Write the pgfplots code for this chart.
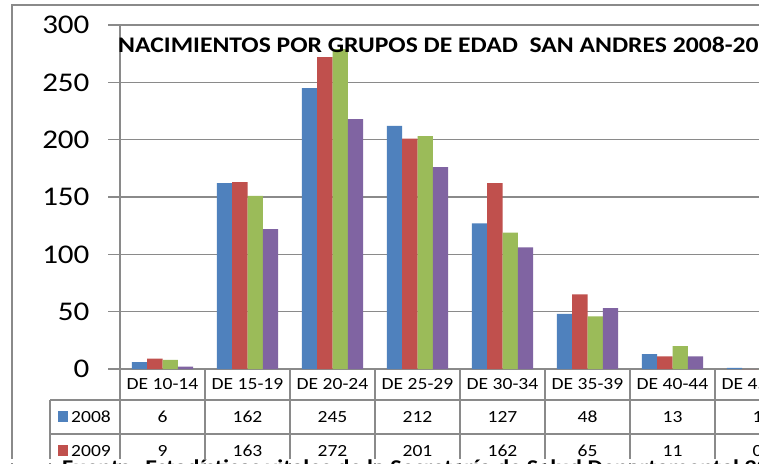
\documentclass[border=0pt]{standalone}
\usepackage{fontspec}
\setmainfont{Carlito}[FakeStretch=1.15]
\usepackage{pgfplots}
\pgfplotsset{compat=1.18}
\usepackage{pgfplotstable}
\definecolor{cA}{HTML}{4F81BD}
\definecolor{cB}{HTML}{C0504D}
\definecolor{cC}{HTML}{9BBB59}
\definecolor{cD}{HTML}{8064A2}
\definecolor{gridc}{HTML}{8A8A8A}

\pgfplotstableread{
x a b c d
0 6 9 8 2
1 162 163 151 122
2 245 272 279 218
3 212 201 203 176
4 127 162 119 106
5 48 65 46 53
6 13 11 20 11
7 1 0 0 0
}\data

\begin{document}
\begin{tikzpicture}[x=1pt,y=1pt]
\begin{scope}
\clip (0,0) rectangle (759,463);
\fill[white] (0,0) rectangle (759,463);
\draw[gridc, line width=1.3pt] (12,-10) -- (12,458) -- (800,458);
\begin{axis}[
  at={(120pt,94pt)}, anchor=south west,
  width=680pt, height=344pt, scale only axis,
  xmin=-0.5, xmax=7.5, ymin=0, ymax=300,
  ybar=0pt, bar width=15.3pt,
  axis x line*=bottom, axis y line*=left,
  axis line style={gridc, line width=1.3pt},
  xtick=\empty,
  ytick={0,50,...,300},
  ymajorgrids, major grid style={gridc, line width=1.3pt},
  ytick style={gridc, line width=1.3pt},
  major tick length=12pt, tick align=outside,
  yticklabel style={font=\fontsize{27}{27}\selectfont, text=black, xshift=-15pt},
  /pgf/number format/assume math mode=true,
  clip=false,
]
\addplot[fill=cA, draw=none] table[x=x,y=a] {\data};
\addplot[fill=cB, draw=none] table[x=x,y=b] {\data};
\addplot[fill=cC, draw=none] table[x=x,y=c] {\data};
\addplot[fill=cD, draw=none] table[x=x,y=d] {\data};
\end{axis}
\node[anchor=base west, font=\fontsize{22.3}{23}\selectfont\bfseries, inner sep=0pt] at (118,410) {NACIMIENTOS POR GRUPOS DE EDAD\ \ SAN ANDRES 2008-2011};
% data table
\foreach \k in {0,...,8} {
  \draw[gridc, line width=1.3pt] (120+85*\k,94) -- (120+85*\k,-10);
}
\draw[gridc, line width=1.3pt] (50,63) -- (50,-10);
\draw[gridc, line width=1.3pt] (50,63) -- (800,63);
\draw[gridc, line width=1.3pt] (50,29) -- (800,29);
\foreach \lab [count=\i from 0] in {DE 10-14,DE 15-19,DE 20-24,DE 25-29,DE 30-34,DE 35-39,DE 40-44,DE 45-49} {
  \node[font=\fontsize{17}{17}\selectfont] at (162.5+85*\i,78.5) {\lab};
}
\foreach \v [count=\i from 0] in {6,162,245,212,127,48,13,1} {
  \node[font=\fontsize{17}{17}\selectfont] at (162.5+85*\i,46) {\v};
}
\foreach \v [count=\i from 0] in {9,163,272,201,162,65,11,0} {
  \node[font=\fontsize{17}{17}\selectfont] at (162.5+85*\i,12) {\v};
}
\fill[cA] (58,41) rectangle (68,52);
\fill[cB] (58,7) rectangle (68,18);
\node[anchor=west, inner sep=0pt, font=\fontsize{17}{17}\selectfont] at (71,46) {2008};
\node[anchor=west, inner sep=0pt, font=\fontsize{17}{17}\selectfont] at (71,12) {2009};
\fill[white] (0,0) rectangle (759,4.5);
\node[anchor=base west, inner sep=0pt, font=\fontsize{21}{21}\selectfont\bfseries] at (62,-11) {Fuente: Estadísticas vitales de la Secretaría de Salud Departamental 2012};
\end{scope}
\pgfresetboundingbox
\useasboundingbox (0,0) rectangle (759,463);
\end{tikzpicture}
\end{document}
